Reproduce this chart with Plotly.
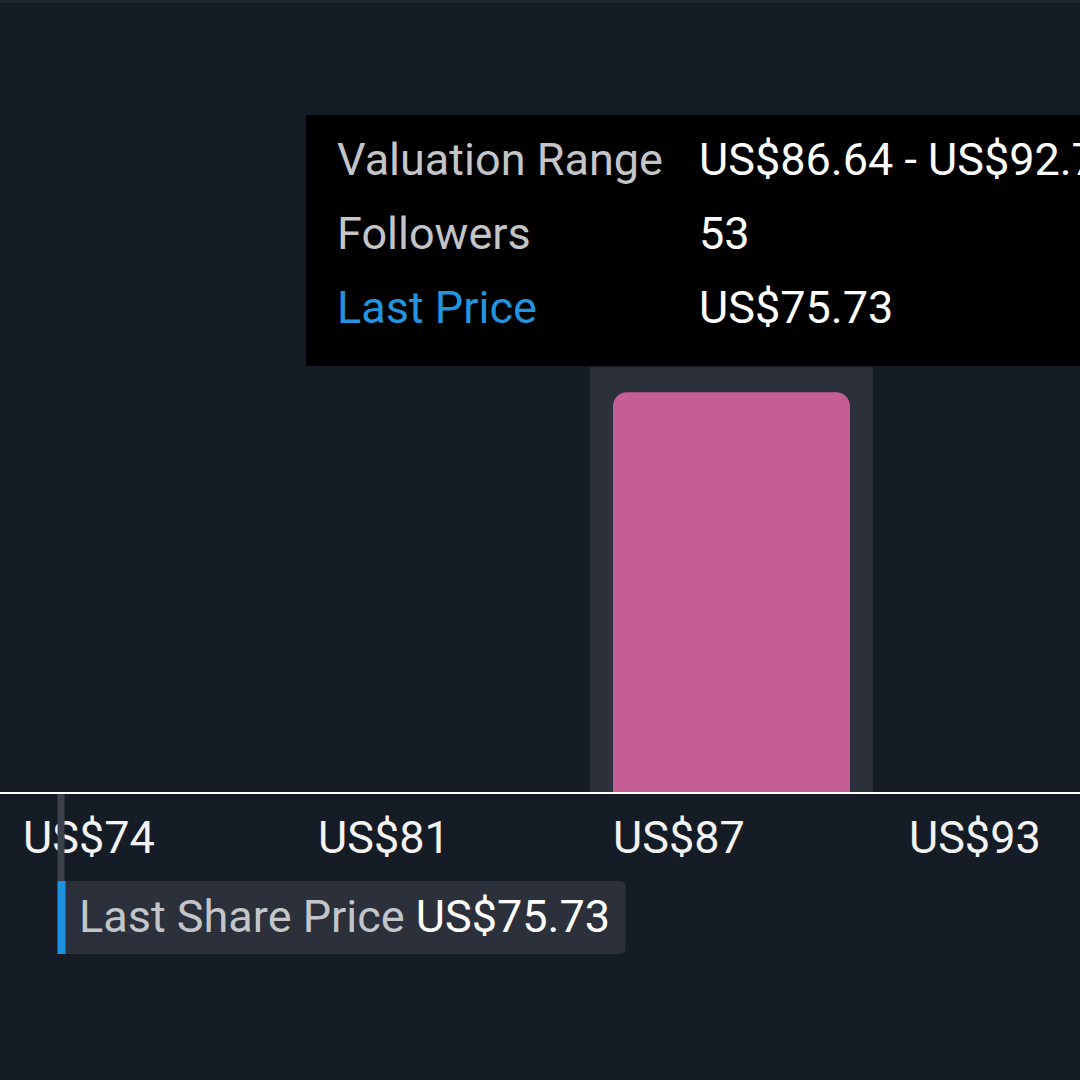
import plotly.graph_objects as go

# ---------------- data ----------------
bin_edges = [74.46, 80.55, 86.64, 92.75]          # valuation bin edges (US$)
tick_labels = ["US$74", "US$81", "US$87", "US$93"]
bin_followers = [0, 0, 53]                          # followers per bin
highlight_bin = 2
last_price = 75.73

# ---------------- layout constants ----------------
W, H = 1080, 1080
MT, MB = 0, 288
PLOT_H = H - MT - MB
X_RANGE = [74.459, 96.756]
Y_MAX = 105
PPU = W / (X_RANGE[1] - X_RANGE[0])  # pixels per US$

BG = "#161c26"
BAR = "#c45e95"
BAND = "#2b303a"
BLUE = "#2394df"
GRAY_TXT = "#c3c5c9"
FONT = "Roboto"
FS = 45

fig = go.Figure()

# bars (inset inside the bin highlight band)
centers, widths, vals = [], [], []
for i, f in enumerate(bin_followers):
    lo, hi = bin_edges[i], bin_edges[i + 1]
    band_w = (hi - lo) - 13 / PPU
    centers.append(lo + band_w / 2)
    widths.append(band_w - 46 / PPU)
    vals.append(f)

fig.add_trace(go.Bar(x=centers, y=vals, width=widths, marker=dict(color=BAR, line_width=0),
                     hoverinfo="skip", showlegend=False))

shapes = []
# highlight band behind selected bin
lo, hi = bin_edges[highlight_bin], bin_edges[highlight_bin + 1]
shapes.append(dict(type="rect", xref="x", yref="y", layer="below",
                   x0=lo, x1=hi - 13 / PPU, y0=0,
                   y1=bin_followers[highlight_bin] + 25 / PLOT_H * Y_MAX,
                   fillcolor=BAND, line_width=0))
# thin top strip
shapes.append(dict(type="rect", xref="paper", yref="paper", x0=0, x1=1,
                   y0=1 - 3 / PLOT_H, y1=1, fillcolor="#1f2431", line_width=0))


def py(p):  # pixel y (from top) to paper y
    return (PLOT_H - (p - MT)) / PLOT_H


# tooltip box
shapes.append(dict(type="rect", xref="paper", yref="paper", x0=306 / W, x1=1.1,
                   y0=py(366), y1=py(115), fillcolor="#000000", line_width=0))

# last price marker line (below axis) + label box
shapes.append(dict(type="rect", xref="x", xsizemode="pixel", xanchor=last_price,
                   x0=-4, x1=3, yref="paper", ysizemode="pixel", yanchor=0,
                   y0=-2, y1=-89, fillcolor="#3b404a", line_width=0))
r = 6
bx0, bx1, by0, by1 = -4, 564, -89, -162
path = (f"M{bx0},{by0} L{bx1 - r},{by0} Q{bx1},{by0} {bx1},{by0 - r} "
        f"L{bx1},{by1 + r} Q{bx1},{by1} {bx1 - r},{by1} L{bx0},{by1} Z")
shapes.append(dict(type="path", xref="x", xsizemode="pixel", xanchor=last_price,
                   yref="paper", ysizemode="pixel", yanchor=0, path=path,
                   fillcolor="#2b303a", line_width=0))
shapes.append(dict(type="rect", xref="x", xsizemode="pixel", xanchor=last_price,
                   x0=-4, x1=4, yref="paper", ysizemode="pixel", yanchor=0,
                   y0=by0, y1=by1, fillcolor="#1e90e0", line_width=0))

annotations = []
rows = [
    ("Valuation Range", f"US${lo:.2f} - US${hi:.2f}", GRAY_TXT, 160),
    ("Followers", f"{bin_followers[highlight_bin]}", GRAY_TXT, 233),
    ("Last Price", f"US${last_price:.2f}", BLUE, 307),
]
for lab, val, col, yy in rows:
    annotations.append(dict(xref="paper", yref="paper", x=335 / W, y=py(yy), xanchor="left",
                            yanchor="middle", text=lab, showarrow=False,
                            font=dict(family=FONT, size=FS, color=col)))
    annotations.append(dict(xref="paper", yref="paper", x=697 / W, y=py(yy), xanchor="left",
                            yanchor="middle", text=val, showarrow=False,
                            font=dict(family=FONT, size=FS, color="#ffffff")))

annotations.append(dict(xref="x", yref="paper", x=last_price, y=0, xanchor="left",
                        yanchor="middle", xshift=15, yshift=-(916 - 792),
                        text=f"<span style='color:{GRAY_TXT}'>Last Share Price</span> US${last_price:.2f}",
                        showarrow=False, font=dict(family=FONT, size=FS, color="#ffffff")))

fig.update_layout(
    width=W, height=H,
    margin=dict(l=0, r=0, t=MT, b=MB, pad=0),
    paper_bgcolor=BG, plot_bgcolor=BG,
    barcornerradius=14,
    shapes=shapes, annotations=annotations,
    xaxis=dict(range=X_RANGE, showgrid=False, zeroline=False, showline=True,
               linecolor="#ffffff", linewidth=2, ticks="",
               tickvals=bin_edges, ticktext=tick_labels,
               ticklabelposition="outside right", ticklabelshift=22, ticklabelstandoff=5,
               tickfont=dict(family=FONT, size=FS, color="#f3f3f3"), fixedrange=True),
    yaxis=dict(range=[0, Y_MAX], visible=False, fixedrange=True),
    showlegend=False,
)

fig.write_html("out.html", config={"displayModeBar": False},
               post_script="document.body.style.margin='0';")
